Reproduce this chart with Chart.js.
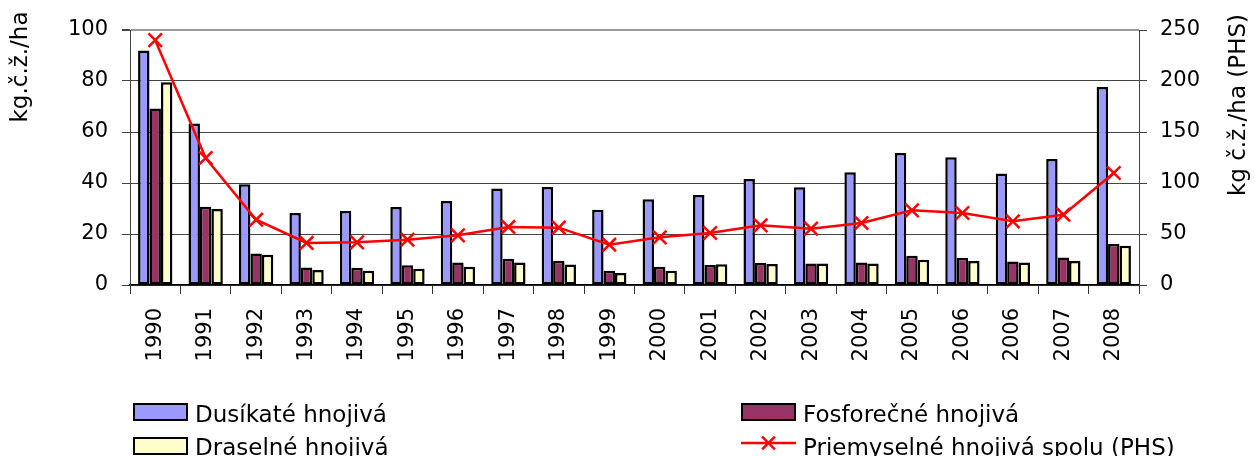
<!DOCTYPE html>
<html>
<head>
<meta charset="utf-8">
<script src="https://cdn.jsdelivr.net/npm/chart.js@4.4.1/dist/chart.umd.min.js"></script>
<style>
  html, body { margin: 0; padding: 0; background: #fff; overflow: hidden; }
  #wrap { position: relative; width: 1255px; height: 456px; }
  #c { position: absolute; left: 0; top: 0; }
  .lg-box { position: absolute; box-sizing: border-box; width: 55px; height: 18px; border: 2px solid #000; }
  .lg-txt { position: absolute; font-family: "DejaVu Sans", sans-serif; font-size: 23px; line-height: 23px; color: #000; white-space: nowrap; }
  .lg-svg { position: absolute; }
</style>
</head>
<body>
<div id="wrap">
  <canvas id="c" width="1255" height="456"></canvas>
</div>
<script>
// ---- data ----
const years = ["1990","1991","1992","1993","1994","1995","1996","1997","1998","1999","2000","2001","2002","2003","2004","2005","2006","2006","2007","2008"];
const dusikate = [92.0, 63.3, 39.5, 28.2, 29.0, 30.6, 32.9, 37.8, 38.4, 29.5, 33.6, 35.3, 41.6, 38.3, 44.2, 51.8, 50.1, 43.7, 49.4, 77.6];
const fosforecne = [69.2, 30.7, 12.4, 6.9, 6.8, 7.7, 8.8, 10.3, 9.5, 5.6, 7.2, 7.8, 8.6, 8.4, 8.8, 11.5, 10.7, 9.2, 10.8, 16.1];
const draselne = [79.5, 29.8, 11.9, 5.9, 5.6, 6.4, 7.2, 8.8, 8.0, 4.7, 5.6, 8.1, 8.2, 8.4, 8.4, 9.9, 9.4, 8.8, 9.4, 15.4];
const phs = [240, 124.5, 64, 41.2, 41.8, 44.4, 48.7, 56.9, 56.2, 39.5, 46.7, 51.0, 58.5, 55.2, 60.8, 73.2, 70.6, 62.4, 68.9, 109.8];
const seriesNames = ["Dusíkaté hnojivá", "Fosforečné hnojivá", "Draselné hnojivá", "Priemyselné hnojivá spolu (PHS)"];
const leftTitle = "kg.č.ž./ha";
const rightTitle = "kg č.ž./ha (PHS)";
const colors = ["#9999FF", "#993366", "#FFFFCC", "#FF0000"];

const FONT = '"DejaVu Sans", sans-serif';

const axisTitles = {
  id: 'axisTitles',
  afterDraw(chart) {
    const ctx = chart.ctx;
    ctx.save();
    ctx.font = '23px ' + FONT;
    ctx.fillStyle = '#000';
    ctx.textAlign = 'center';
    ctx.textBaseline = 'middle';
    ctx.save();
    ctx.translate(21, 67);
    ctx.rotate(-Math.PI / 2);
    ctx.fillText(leftTitle, 0, 0);
    ctx.restore();
    ctx.save();
    ctx.translate(1239, 105);
    ctx.rotate(-Math.PI / 2);
    ctx.fillText(rightTitle, 0, 0);
    ctx.restore();
    ctx.restore();
  }
};

function barDs(label, data, color) {
  return {
    type: 'bar', label, data, yAxisID: 'y',
    backgroundColor: color, borderColor: '#000', borderWidth: 2.5, borderSkipped: false,
    categoryPercentage: 0.68, barPercentage: 1.0, order: 1
  };
}

new Chart(document.getElementById('c'), {
  data: {
    labels: years,
    datasets: [
      barDs(seriesNames[0], dusikate, colors[0]),
      barDs(seriesNames[1], fosforecne, colors[1]),
      barDs(seriesNames[2], draselne, colors[2]),
      {
        type: 'line', label: seriesNames[3], data: phs, yAxisID: 'y1',
        borderColor: colors[3], borderWidth: 2.5, tension: 0, fill: false,
        pointStyle: 'crossRot', pointRadius: 9.5, pointBorderWidth: 2.5,
        pointBorderColor: colors[3], pointBackgroundColor: colors[3], order: 0
      }
    ]
  },
  options: {
    responsive: false,
    animation: false,
    layout: { padding: { top: 30, left: 0, right: 0, bottom: 0 } },
    plugins: { legend: { display: false }, tooltip: { enabled: false }, title: { display: false } },
    scales: {
      x: {
        offset: true,
        grid: { offset: true, drawOnChartArea: false, drawTicks: true, tickLength: 9, color: '#333', tickColor: '#333' },
        border: { display: true, color: '#000', width: 1.5 },
        ticks: { autoSkip: false, maxRotation: 90, minRotation: 90, padding: 14, color: '#000', font: { family: FONT, size: 21 } },
        afterFit(s) { s.height = 171; }
      },
      y: {
        position: 'left', min: 0, max: 100,
        ticks: { stepSize: 20, padding: 14, color: '#000', font: { family: FONT, size: 21 } },
        grid: {
          color: (c) => c.tick && c.tick.value === 100 ? '#9a9a9a' : '#444',
          lineWidth: (c) => c.tick && c.tick.value === 100 ? 2 : 1,
          tickColor: '#444', tickLength: 8
        },
        border: { display: true, color: '#444', width: 1 },
        afterFit(s) { s.width = 130; }
      },
      y1: {
        position: 'right', min: 0, max: 250,
        ticks: { stepSize: 50, padding: 13, color: '#000', font: { family: FONT, size: 21 } },
        grid: { drawOnChartArea: false, tickLength: 8, tickColor: '#444' },
        border: { display: true, color: '#444', width: 1 },
        afterFit(s) { s.width = 116; }
      }
    }
  },
  plugins: [axisTitles]
});

// ---- HTML legend ----
const wrap = document.getElementById('wrap');
function addBox(x, y, color) {
  const d = document.createElement('div');
  d.className = 'lg-box';
  d.style.left = x + 'px'; d.style.top = y + 'px'; d.style.background = color;
  wrap.appendChild(d);
}
function addText(x, baseline, text) {
  const d = document.createElement('div');
  d.className = 'lg-txt';
  d.style.left = x + 'px'; d.style.top = (baseline - 19.5) + 'px';
  d.textContent = text;
  wrap.appendChild(d);
}
function addLineMarker(x, y, color) {
  const ns = 'http://www.w3.org/2000/svg';
  const svg = document.createElementNS(ns, 'svg');
  svg.setAttribute('class', 'lg-svg');
  svg.setAttribute('width', 56); svg.setAttribute('height', 20);
  svg.style.left = x + 'px'; svg.style.top = (y - 10) + 'px';
  const mk = (x1, y1, x2, y2) => {
    const l = document.createElementNS(ns, 'line');
    l.setAttribute('x1', x1); l.setAttribute('y1', y1); l.setAttribute('x2', x2); l.setAttribute('y2', y2);
    l.setAttribute('stroke', color); l.setAttribute('stroke-width', 2.5);
    svg.appendChild(l);
  };
  mk(0, 10, 55, 10);
  mk(27.5 - 6.4, 10 - 6.4, 27.5 + 6.4, 10 + 6.4);
  mk(27.5 - 6.4, 10 + 6.4, 27.5 + 6.4, 10 - 6.4);
  wrap.appendChild(svg);
}
addBox(133, 403, colors[0]);
addText(195, 422, seriesNames[0]);
addBox(133, 437, colors[2]);
addText(195, 455, seriesNames[2]);
addBox(741, 403, colors[1]);
addText(803, 422, seriesNames[1]);
addLineMarker(741, 443, colors[3]);
addText(803, 455, seriesNames[3]);
</script>
</body>
</html>
